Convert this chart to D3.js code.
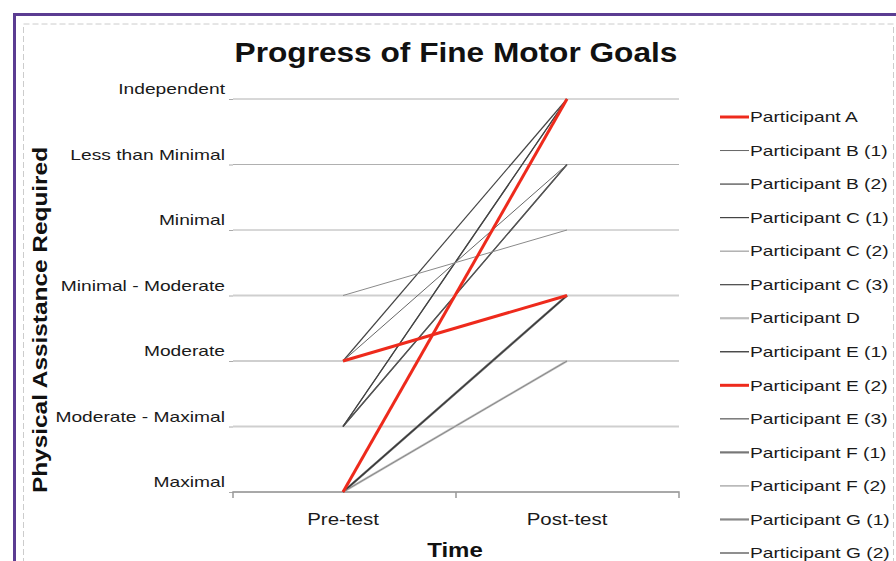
<!DOCTYPE html>
<html><head><meta charset="utf-8">
<script src="https://cdn.jsdelivr.net/npm/d3@7"></script>
<style>body{margin:0;background:#fff;}svg{display:block;font-family:"Liberation Sans",Arial,sans-serif;}</style>
</head><body><svg id="c" width="896" height="561"></svg>
<script>
const levels = ["Maximal","Moderate - Maximal","Moderate","Minimal - Moderate","Minimal","Less than Minimal","Independent"];
const times = ["Pre-test","Post-test"];
const participants = ["Participant A","Participant B (1)","Participant B (2)","Participant C (1)","Participant C (2)","Participant C (3)","Participant D","Participant E (1)","Participant E (2)","Participant E (3)","Participant F (1)","Participant F (2)","Participant G (1)","Participant G (2)"];
const preValues  = [0,2,1,2,3,1,0,0,2,1,0,0,0,1];
const postValues = [6,5,6,6,4,5,2,3,3,5,3,2,3,6];
const colors = ["#ee2a1c","#666","#444","#444","#8a8a8a","#444","#bdbdbd","#333","#ee2a1c","#555","#777","#888","#888","#444"];
const widths = [3,1,1.2,1.2,1,1.2,2.2,1.3,3,1.2,2.2,1,2.2,1.2];

const svg = d3.select("#c");
function stretch(sel, sx){
  sel.each(function(){
    const t=d3.select(this);
    const px=+t.attr("x")||0, py=+t.attr("y")||0;
    const base=t.attr("transform")||"";
    t.attr("x",0).attr("y",0).attr("transform",`${base} translate(${px},${py}) scale(${sx},1)`);
  });
}
// frame
svg.append("rect").attr("x",14.5).attr("y",14.5).attr("width",900).attr("height",600).attr("fill","none").attr("stroke","#5b3c92").attr("stroke-width",3);
svg.append("path").attr("d","M23.5,600V24H893.5V600").attr("fill","none").attr("stroke","#ccc").attr("stroke-width",1).attr("stroke-dasharray","6,3");

const x = d3.scalePoint().domain(times).range([343,567]);
const y = d3.scaleLinear().domain([0,6]).range([492,99]);
const L = 233, R = 679;

// gridlines
const g = svg.append("g");
g.selectAll("line.grid").data(d3.range(0,7)).join("line")
 .attr("x1",L).attr("x2",R).attr("y1",d=>y(d)).attr("y2",d=>y(d))
 .attr("stroke",d=>(d>=1&&d<=3)?"#cfcfcf":"#b0b0b0").attr("stroke-width",d=>(d>=1&&d<=3)?2:1);
// y ticks + labels
const yAxis = d3.axisLeft(y).tickValues(d3.range(0,7)).tickSize(4).tickFormat(d=>levels[d]);
const ya = svg.append("g").attr("transform",`translate(${L},0)`).call(yAxis);
ya.select(".domain").remove();
ya.selectAll(".tick line").attr("stroke","#aaa");
ya.selectAll(".tick text").attr("font-size",15).attr("fill","#1a1a1a").attr("x",-8).attr("dy","-0.35em").attr("font-family","Liberation Sans, Arial, sans-serif");
stretch(ya.selectAll(".tick text"),1.28);
// x axis
const xa = svg.append("g").attr("transform",`translate(0,${y(0)})`);
const xb = d3.scaleBand().domain(times).range([L,R]);
xa.append("path").attr("d",`M${L},6V0H${R}V6`).attr("fill","none").attr("stroke","#999").attr("stroke-width",1.5);
xa.selectAll("line.xt").data([xb.step()]).join("line").attr("x1",L+xb.step()).attr("x2",L+xb.step()).attr("y1",0).attr("y2",6).attr("stroke","#999").attr("stroke-width",1.5);
const xt = xa.selectAll("text").data(times).join("text").attr("x",d=>x(d)).attr("y",33).attr("text-anchor","middle").attr("font-size",16).attr("fill","#1a1a1a").text(d=>d);
stretch(xt,1.28);

// series lines: thick first, then thin, red on top
const series = participants.map((p,i)=>({name:p,vals:[preValues[i],postValues[i]],color:colors[i],w:widths[i]}));
const line = d3.line().x((d,i)=>x(times[i])).y(d=>y(d));
const rank = s => s.color==="#ee2a1c" ? 100 : -s.w;
const drawn = series.slice().sort((a,b)=>rank(a)-rank(b));
svg.append("g").selectAll("path").data(drawn).join("path")
 .attr("d",d=>line(d.vals)).attr("fill","none").attr("stroke",d=>d.color).attr("stroke-width",d=>d.w);

// legend
const lg = svg.append("g");
const ly = d3.scalePoint().domain(participants).range([117,553]);
const items = lg.selectAll("g").data(series).join("g").attr("transform",d=>`translate(720,${ly(d.name)})`);
items.append("line").attr("x1",0).attr("x2",29).attr("stroke",d=>d.color).attr("stroke-width",d=>d.w);
const lt = items.append("text").attr("x",30).attr("dy","0.35em").attr("font-size",15).attr("fill","#1a1a1a").text(d=>d.name);
stretch(lt,1.28);

// titles
const tt = svg.append("text").attr("x",456).attr("y",62).attr("text-anchor","middle").attr("font-size",28).attr("font-weight","bold").attr("fill","#111").text("Progress of Fine Motor Goals");
stretch(tt,1.13);
const tx = svg.append("text").attr("x",455).attr("y",557).attr("text-anchor","middle").attr("font-size",20).attr("font-weight","bold").attr("fill","#111").text("Time");
stretch(tx,1.2);
svg.append("text").attr("transform","translate(47,320) rotate(-90) scale(1.22,1)").attr("text-anchor","middle").attr("font-size",20).attr("font-weight","bold").attr("fill","#111").text("Physical Assistance Required");
</script></body></html>
